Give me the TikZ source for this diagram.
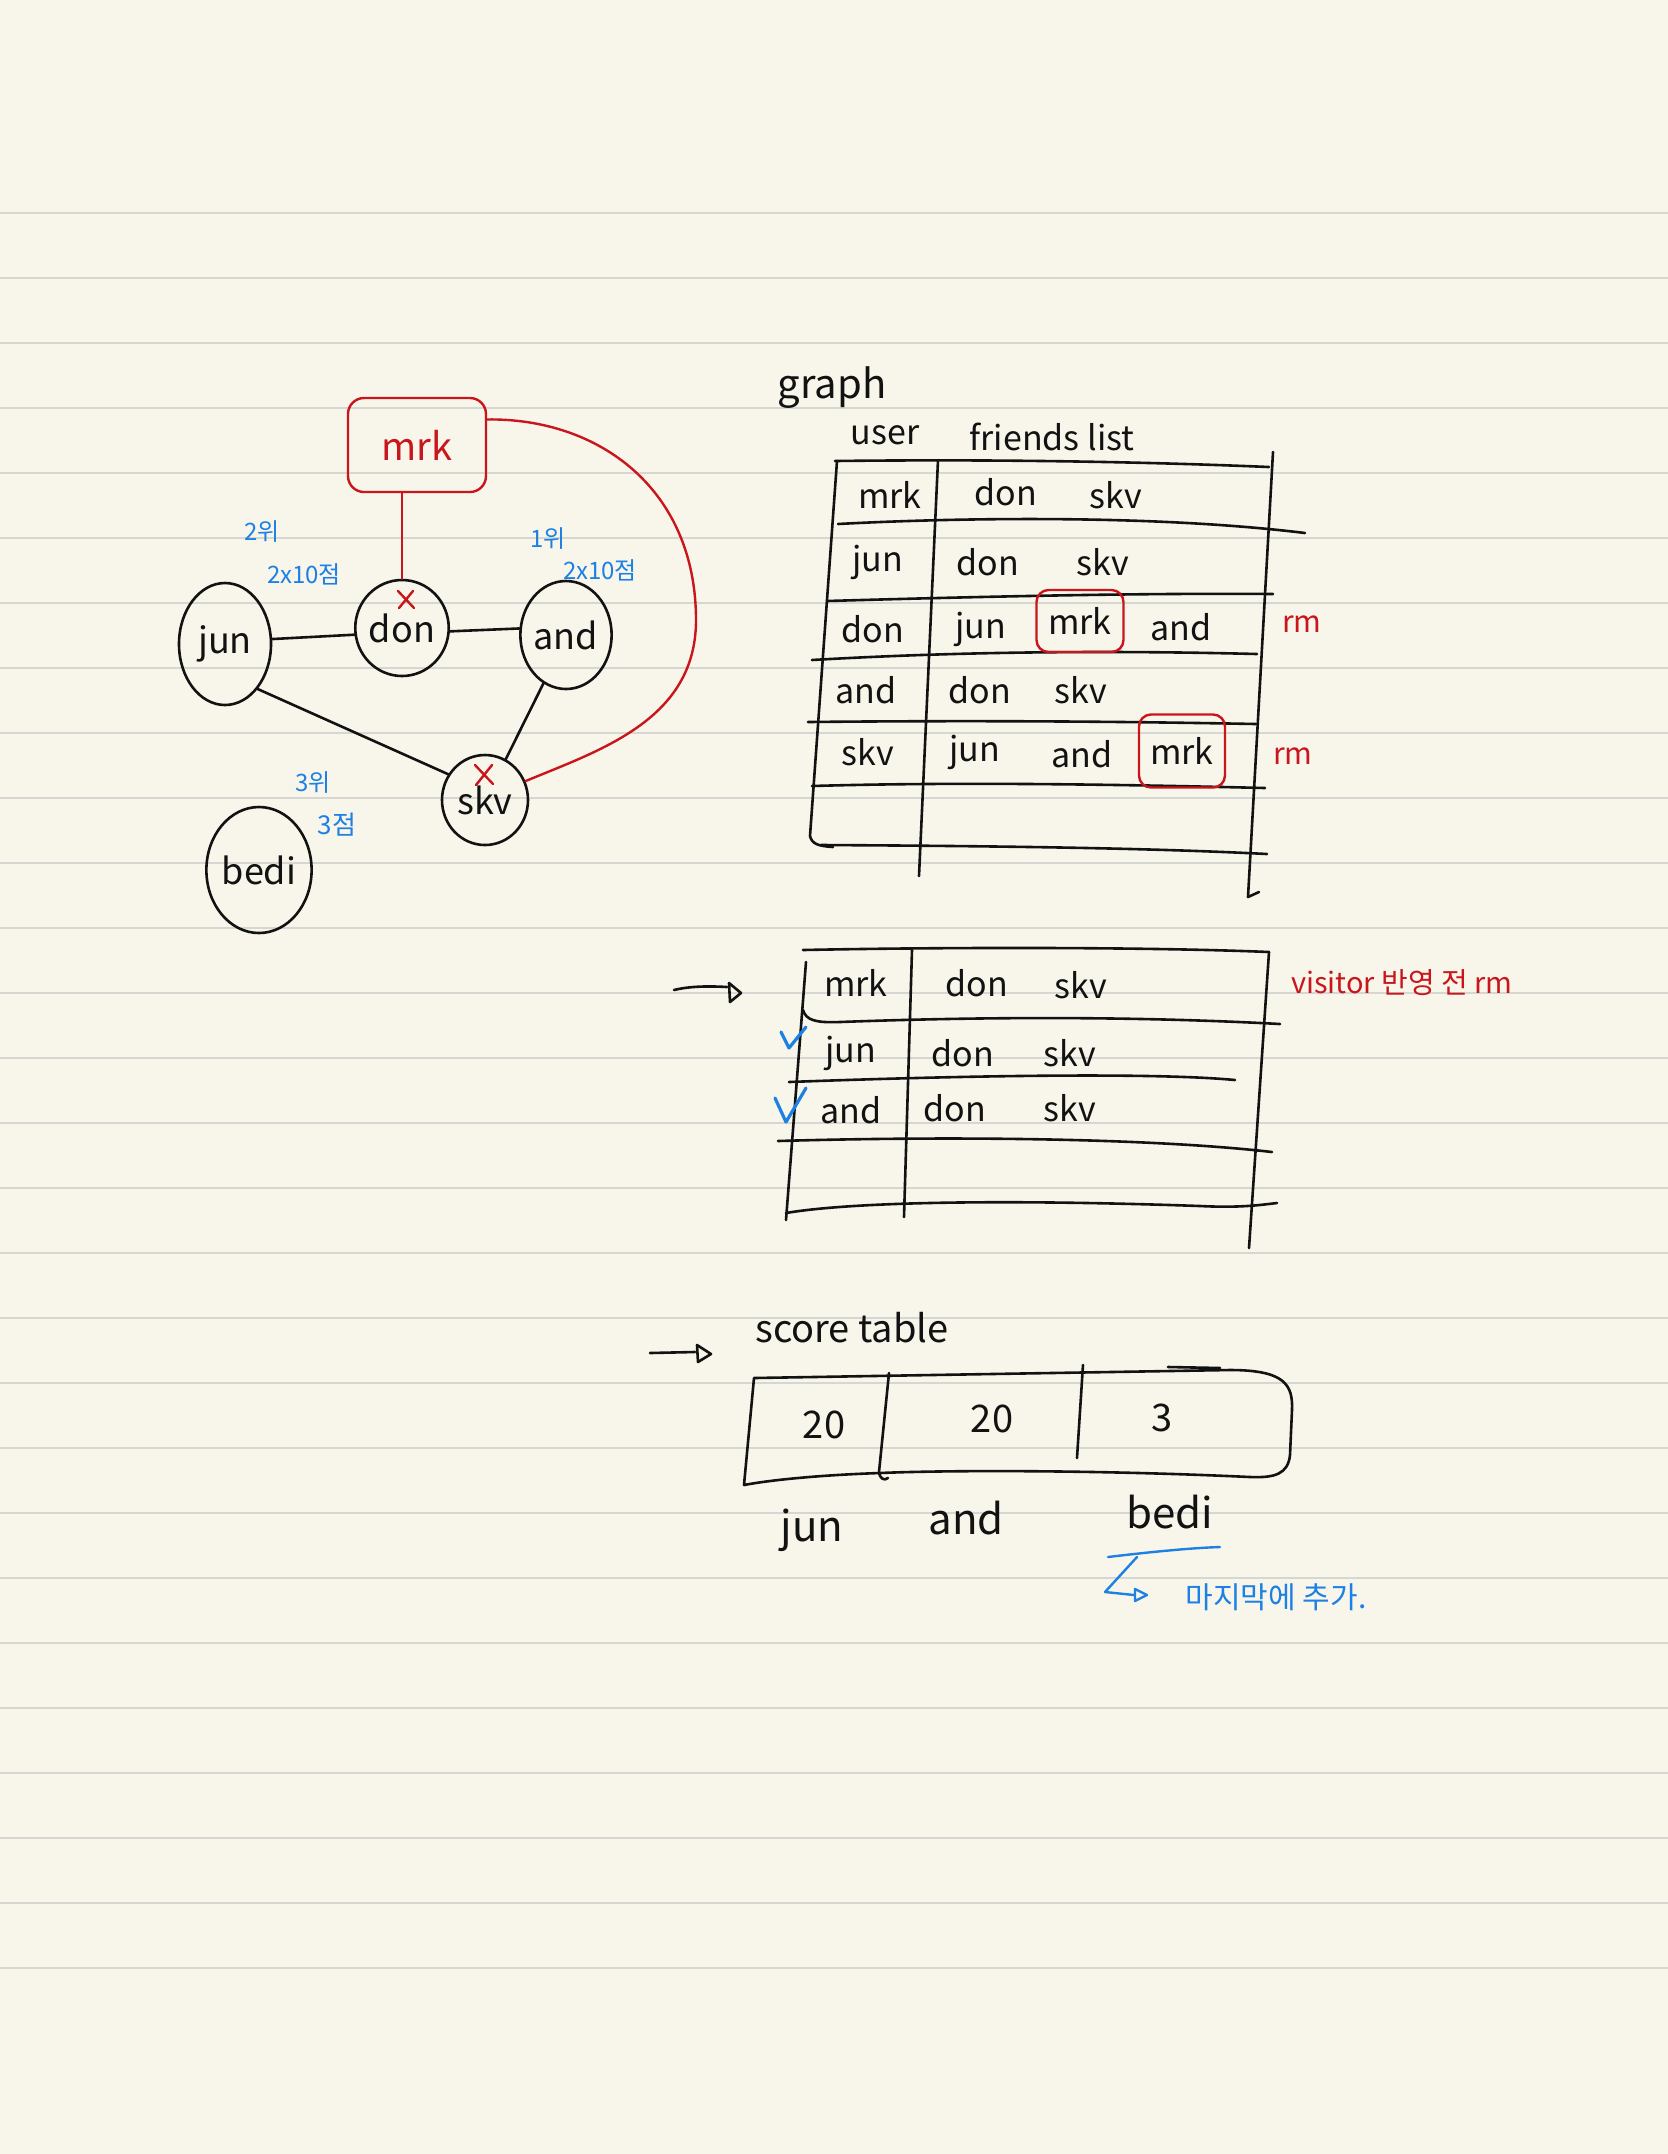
\documentclass[tikz,border=0pt]{standalone}
\usepackage{fontspec}
\setmainfont{Noto Sans CJK KR}
\usetikzlibrary{shapes.geometric}
\definecolor{paper}{RGB}{248,246,234}
\definecolor{rulegrey}{RGB}{214,214,210}
\definecolor{ink}{RGB}{18,18,18}
\definecolor{redink}{RGB}{200,22,28}
\definecolor{blueink}{RGB}{28,128,228}
\tikzset{
  pen/.style={draw=ink, line width=1.3pt},
  redpen/.style={draw=redink, line width=1.2pt},
  bluepen/.style={draw=blueink, line width=1.2pt},
  gnode/.style={ellipse, pen, inner sep=0pt, text=ink, font=\fontsize{18}{20}\selectfont},
  ttext/.style={inner sep=0pt, text=ink, font=\fontsize{17}{19}\selectfont},
  bluelbl/.style={inner sep=0pt, text=blueink, font=\fontsize{12}{14}\selectfont},
  redlbl/.style={inner sep=0pt, text=redink, font=\fontsize{15}{17}\selectfont},
  redbox/.style={ttext, draw=redink, line width=1.2pt, rounded corners=6pt},
}
\begin{document}
\begin{tikzpicture}[x=0.5pt,y=-0.5pt,line cap=round,line join=round]
\fill[paper] (0,0) rectangle (1668,2154);
\useasboundingbox (0,0) rectangle (1668,2154);
\foreach \k in {0,...,27}
  \draw[rulegrey, line width=1pt] (0,{213.3+65*\k}) -- (1668,{213.3+65*\k});

% ---------------- graph ----------------
\node[draw=redink, line width=1.2pt, rounded corners=8pt, minimum width=69pt, minimum height=47pt,
      text=redink, font=\fontsize{19}{21}\selectfont] (mrk) at (417,445) {mrk};
\node[gnode, minimum width=46pt, minimum height=61pt] (jun) at (225,644) {jun};
\node[gnode, minimum width=35pt, minimum height=48pt] (don) at (402,628) {don};
\node[gnode, minimum width=40pt, minimum height=54pt] (and) at (566,635) {and};
\node[gnode, minimum width=43pt, minimum height=45pt] (skv) at (485,800) {skv};
\node[gnode, minimum width=49pt, minimum height=63pt] (bedi) at (259,870) {bedi};

\draw[pen] (jun.6) -- (don.188);
\draw[pen] (don.-4) -- (and.172);
\draw[pen] (jun.-54) -- (skv.145);
\draw[pen] (and.-115) -- (skv.63);
\draw[redpen] (mrk.south -| don.north) -- (don.north);
\draw[redpen] (mrk.20) .. controls (600,418) and (696,490) .. (696,620)
  .. controls (696,720) and (600,750) .. (skv.25);

% red crosses
\draw[redpen] (398,591) -- (414,608) (413,591) -- (399,608);
\draw[redpen] (475,765) -- (493,784) (492,765) -- (476,785);

% blue ranking notes
\node[bluelbl] (r2) at (262,532) {2위};
\node[bluelbl] (s2) at (304,574) {2x10점};
\node[bluelbl] (r1) at (548,539) {1위};
\node[bluelbl] (s1) at (600,570) {2x10점};
\node[bluelbl] (r3) at (313,783) {3위};
\node[bluelbl, font=\fontsize{13}{15}\selectfont] (s3) at (337,825) {3점};

% ---------------- graph table ----------------
\node[inner sep=0pt, text=ink, font=\fontsize{20}{22}\selectfont] (graph) at (832,388) {graph};
\node[ttext] (user) at (885,435) {user};
\node[ttext] (friends) at (1052,437) {friends list};

\draw[pen] (835,461) .. controls (1000,459) and (1150,462) .. (1269,467);
\draw[pen] (837,461) -- (810,836) .. controls (812,844) and (818,846) .. (833,847);
\draw[pen] (938,460) -- (919,876);
\draw[pen] (1273,452) -- (1248,897) -- (1259,892);
\draw[pen] (838,524) .. controls (950,518) and (1150,514) .. (1305,533);
\draw[pen] (827,601) .. controls (1000,596) and (1150,593) .. (1273,594);
\draw[pen] (812,660) .. controls (950,652) and (1100,650) .. (1257,654);
\draw[pen] (808,722) .. controls (1000,720) and (1150,722) .. (1256,724);
\draw[pen] (812,786) .. controls (950,782) and (1100,784) .. (1265,788);
\draw[pen] (821,845) .. controls (1000,846) and (1150,848) .. (1267,854);

\node[ttext] (a1) at (890,495) {mrk};
\node[ttext] (a2) at (1006,492) {don};
\node[ttext] (a3) at (1116,495) {skv};
\node[ttext] (b1) at (878,562) {jun};
\node[ttext] (b2) at (988,562) {don};
\node[ttext] (b3) at (1103,562) {skv};
\node[ttext] (c1) at (873,629) {don};
\node[ttext] (c2) at (981,629) {jun};
\node[redbox, minimum width=43.5pt, minimum height=31pt] (c3) at (1080,621) {mrk};
\node[ttext] (c4) at (1181,627) {and};
\node[redlbl] (c5) at (1302,624) {rm};
\node[ttext] (d1) at (866,690) {and};
\node[ttext] (d2) at (980,690) {don};
\node[ttext] (d3) at (1081,690) {skv};
\node[ttext] (e1) at (868,752) {skv};
\node[ttext] (e2) at (975,752) {jun};
\node[ttext] (e3) at (1082,754) {and};
\node[redbox, minimum width=43pt, minimum height=36.5pt] (e4) at (1182,751) {mrk};
\node[redlbl] (e5) at (1293,756) {rm};

% ---------------- second table ----------------
\draw[pen] (674,990) .. controls (690,986) and (710,986) .. (727,987);
\draw[pen] (729,983) -- (741,993) -- (730,1002) -- cycle;

\draw[pen] (803,950) .. controls (950,947) and (1150,947) .. (1269,952);
\draw[pen] (806,962) -- (786,1220);
\draw[pen] (912,950) -- (904,1217);
\draw[pen] (1269,952) -- (1249,1248);
\draw[pen] (803,1010) .. controls (806,1020) and (815,1023) .. (840,1022)
  .. controls (1000,1016) and (1150,1017) .. (1280,1024);
\draw[pen] (789,1082) .. controls (950,1076) and (1150,1072) .. (1235,1080);
\draw[pen] (778,1141) .. controls (950,1136) and (1150,1138) .. (1272,1152);
\draw[pen] (786,1213) .. controls (850,1202) and (1000,1199) .. (1200,1206)
  .. controls (1240,1208) and (1260,1205) .. (1277,1203);

\node[ttext] (f1) at (856,983) {mrk};
\node[ttext] (f2) at (977,983) {don};
\node[ttext] (f3) at (1081,985) {skv};
\node[redlbl, font=\fontsize{14.5}{16}\selectfont] (visit) at (1402,983) {visitor 반영 전 rm};
\node[ttext] (g1) at (851,1053) {jun};
\node[ttext] (g2) at (963,1053) {don};
\node[ttext] (g3) at (1070,1053) {skv};
\node[ttext] (h1) at (851,1110) {and};
\node[ttext] (h2) at (955,1108) {don};
\node[ttext] (h3) at (1070,1108) {skv};
\draw[bluepen, line width=1.6pt] (781,1032) -- (789,1048) -- (806,1027);
\draw[bluepen, line width=1.6pt] (775,1098) -- (786,1122) -- (806,1088);

% ---------------- score table ----------------
\draw[pen] (650,1353) -- (695,1352);
\draw[pen] (697,1345) -- (711,1354) -- (698,1362) -- cycle;
\node[inner sep=0pt, text=ink, font=\fontsize{19}{21}\selectfont] (score) at (852,1328) {score table};

\draw[pen] (754,1378) -- (1230,1370) .. controls (1285,1370) and (1293,1385) .. (1292,1410)
  -- (1290,1455) .. controls (1288,1474) and (1275,1478) .. (1250,1477)
  .. controls (1100,1470) and (950,1470) .. (880,1473)
  .. controls (820,1475) and (770,1480) .. (744,1485) -- cycle;
\draw[pen] (1168,1367) -- (1220,1368);
\draw[pen] (889,1373) -- (879,1472) .. controls (880,1479) and (884,1481) .. (888,1478);
\draw[pen] (1083,1365) -- (1077,1458);

\node[inner sep=0pt, text=ink, font=\fontsize{19}{21}\selectfont] (n1) at (824,1425) {20};
\node[inner sep=0pt, text=ink, font=\fontsize{19}{21}\selectfont] (n2) at (992,1419) {20};
\node[inner sep=0pt, text=ink, font=\fontsize{19}{21}\selectfont] (n3) at (1162,1418) {3};
\node[inner sep=0pt, text=ink, font=\fontsize{21}{23}\selectfont] (l1) at (812,1530) {jun};
\node[inner sep=0pt, text=ink, font=\fontsize{21}{23}\selectfont] (l2) at (966,1518) {and};
\node[inner sep=0pt, text=ink, font=\fontsize{21}{23}\selectfont] (l3) at (1170,1512) {bedi};

\draw[bluepen] (1108,1557) .. controls (1150,1552) and (1190,1548) .. (1220,1547);
\draw[bluepen] (1137,1557) -- (1105,1592) -- (1134,1595);
\draw[bluepen] (1135,1589) -- (1147,1595) -- (1135,1601) -- cycle;
\node[inner sep=0pt, text=blueink, font=\fontsize{15}{17}\selectfont] (addnote) at (1276,1597) {마지막에 추가.};
\end{tikzpicture}
\end{document}
